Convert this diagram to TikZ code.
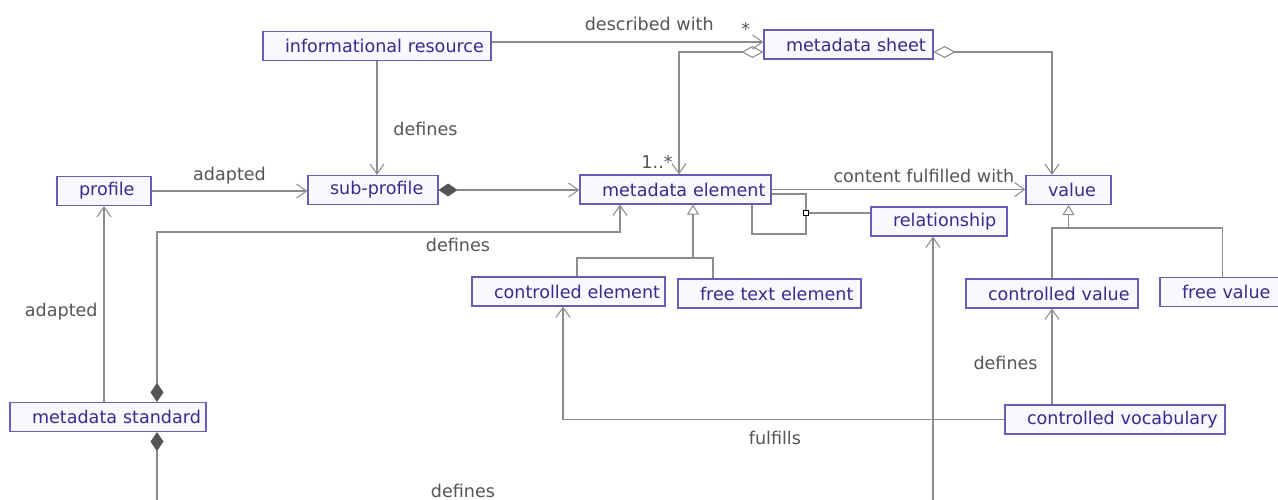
\documentclass[tikz,border=0pt]{standalone}
\usepackage{fontspec}
\setmainfont{DejaVu Sans}
\usetikzlibrary{arrows.meta, positioning}
\definecolor{clsline}{HTML}{6B5BB5}
\definecolor{clsfill}{HTML}{F8F8FF}
\definecolor{clstext}{HTML}{3A2A8C}
\definecolor{linkgray}{HTML}{8C8C8C}
\definecolor{tipgray}{HTML}{555555}
\definecolor{lblgray}{HTML}{555555}
\tikzset{
	umlclass/.style={draw=clsline, line width=0.65pt, fill=clsfill, text=clstext, text width=#1, align=left,
		inner xsep=0pt, minimum height=0.58cm, execute at begin node={\hspace*{0.44cm}}},
	link/.style={draw=linkgray, line width=0.6pt},
	assoc/.style={link, -{Straight Barb[length=0.2cm, width=0.28cm]}},
	aggr/.style={link, {Diamond[open, length=0.44cm, width=0.24cm]}-{Straight Barb[length=0.2cm, width=0.28cm]}},
	owner/.style={link, {Diamond[length=0.38cm, width=0.26cm, color=tipgray]}-},
	compos/.style={link, {Diamond[length=0.38cm, width=0.26cm, color=tipgray]}-{Straight Barb[length=0.2cm, width=0.28cm]}},
	generalize/.style={link, {Triangle[open, length=0.2cm, width=0.24cm]}-},
	role/.style={text=lblgray}
}

\begin{document}
\begin{tikzpicture}[x=0.02cm, y=-0.02cm]
	\useasboundingbox (0, 0) rectangle (1278, 500);

	\node[umlclass=4.56cm] (inforesource) at (377, 46)      {informational resource};
	\node[umlclass=3.38cm] (mdsheet)      at (848.5, 44.5)  {metadata sheet};
	\node[umlclass=1.88cm] (profile)      at (104, 191)     {profile};
	\node[umlclass=2.6cm]  (subprofile)   at (373, 190)     {sub-profile};
	\node[umlclass=3.82cm] (mdelement)    at (675.5, 189.5) {metadata element};
	\node[umlclass=1.7cm]  (value)        at (1068.5, 190)  {value};
	\node[umlclass=2.72cm] (relationship) at (939, 221.5)   {relationship};
	\node[umlclass=3.86cm] (ctrlelement)  at (568.5, 291.5) {controlled element};
	\node[umlclass=3.66cm] (freetext)     at (769.5, 293.5) {free text element};
	\node[umlclass=3.44cm] (ctrlvalue)    at (1052, 293.5)  {controlled value};
	\node[umlclass=2.5cm]  (freevalue)    at (1222.5, 292)  {free value};
	\node[umlclass=3.92cm] (mdstandard)   at (108, 417)     {metadata standard};
	\node[umlclass=4.4cm]  (ctrlvocab)    at (1115, 419.5)  {controlled vocabulary};

	\coordinate (stdout) at (157, 510);
	\coordinate (relout) at (933, 510);

	\draw[assoc] (inforesource.east |- 0, 42) -- (mdsheet.west |- 0, 42)
		node[role, pos=0.58, above=0.1cm] (described) {described with}
		node[role, pos=0.935, above]      (many)      {*};
	\draw[aggr] (mdsheet.west |- 0, 52) -| (mdelement.north -| 679, 0)
		node[role, at end, above left] (oneormore) {1..*};
	\draw[aggr] (mdsheet.east |- 0, 52) -| (value.north -| 1052, 0);
	\draw[assoc] (inforesource.south) -- (subprofile.north -| inforesource.south)
		node[role, pos=0.6, right=0.2cm] (infodefines) {defines};
	\draw[assoc] (profile.east) -- (profile.east -| subprofile.west)
		node[role, midway, above] (subadapted) {adapted};
	\draw[compos] (subprofile.east) -- (subprofile.east -| mdelement.west);
	\draw[assoc] (mdelement.east) -- (mdelement.east -| value.west)
		node[role, pos=0.6, above] (fulfilledwith) {content fulfilled with};

	\draw[link] (mdelement.east |- 0, 194) -| (806, 234) -| (mdelement.south -| 752, 0);
	\node[draw=black, fill=white, inner sep=0pt, minimum size=0.1cm, line width=0.4pt] (assocsq) at (806, 213) {};
	\draw[link] (assocsq.east) -- (relationship.west |- assocsq.east);

	\draw[compos] (mdstandard.north -| 157, 0) |- node[role, pos=0.825, below] (stddefines) {defines} (620, 232)
		-- (mdelement.south -| 620, 0);
	\draw[assoc] (mdstandard.north -| profile.south) -- (profile.south)
		node[role, pos=0.46, left] (stdadapted) {adapted};
	\draw[owner] (mdstandard.south -| stdout) -- (stdout);
	\node[role] (outdefines) at (463, 491) {defines};

	\draw[generalize] (mdelement.south -| 693, 0) -- (693, 258);
	\draw[link] (ctrlelement.north -| 577, 0) |- (713, 258) -- (freetext.north -| 713, 0);
	\draw[generalize] (value.south) -- (value.south |- 0, 228);
	\draw[link] (ctrlvalue.north) |- (freevalue.north |- 0, 228) -- (freevalue.north);

	\draw[assoc] (ctrlvocab.north -| ctrlvalue.south) -- (ctrlvalue.south)
		node[role, pos=0.43, left=0.16cm] (vocabdefines) {defines};
	\draw[assoc] (ctrlvocab.west) -| node[role, pos=0.26, below=0.1cm] (fulfills) {fulfills} (ctrlelement.south -| 563, 0);
	\draw[assoc] (relout) -- (relationship.south -| relout);
\end{tikzpicture}
\end{document}
